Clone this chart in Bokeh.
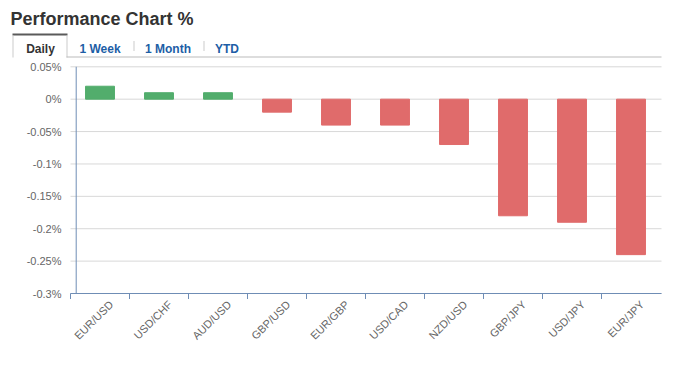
from bokeh.plotting import figure
from bokeh.models import ColumnDataSource, Range1d, FixedTicker
from bokeh.core.properties import value
from bokeh.embed import file_html
from bokeh.resources import INLINE

# ---- data ----
pairs = ["EUR/USD", "USD/CHF", "AUD/USD", "GBP/USD", "EUR/GBP",
         "USD/CAD", "NZD/USD", "GBP/JPY", "USD/JPY", "EUR/JPY"]
changes = [0.02, 0.01, 0.01, -0.02, -0.04, -0.04, -0.07, -0.18, -0.19, -0.24]
y_ticks = [0.05, 0.0, -0.05, -0.1, -0.15, -0.2, -0.25, -0.3]
y_tick_labels = ["0.05%", "0%", "-0.05%", "-0.1%", "-0.15%", "-0.2%", "-0.25%", "-0.3%"]
title_text = "Performance Chart %"
tabs = ["Daily", "1 Week", "1 Month", "YTD"]

GREEN = "#52ad6c"
RED = "#e06b6b"
AXIS = "#6f8db5"
GRID = "#d8d8d8"
FONT = "Liberation Sans"

W, H = 676, 377
n = len(pairs)

# ---- layout (pixels) ----
PLOT_L, PLOT_R = 70, 661          # category band start / gridline end
PLOT_T, PLOT_B = 66.3, 293        # 0.05% line / -0.3% line
BAND = (PLOT_R - 1 - PLOT_L) / n  # px per category
FRAME_B = 300                     # frame bottom (x axis labels start here)
TICK_B = 298.5                    # bottom of x tick marks
YPX = (PLOT_B - PLOT_T) / (y_ticks[0] - y_ticks[-1])  # px per unit


def dx(px):
    return (px - PLOT_L) / BAND


def dy(py):
    return y_ticks[0] - (py - PLOT_T) / YPX


p = figure(width=W, height=H, output_backend="svg", toolbar_location=None,
           x_range=Range1d(dx(0), dx(W)), y_range=Range1d(dy(FRAME_B), dy(0)),
           y_axis_location=None,
           min_border_left=0, min_border_right=0, min_border_top=0,
           min_border_bottom=H - FRAME_B)
p.outline_line_color = None
p.background_fill_color = "white"
p.border_fill_color = "white"
p.xgrid.visible = False
p.ygrid.visible = False

# ---- horizontal grid lines ----
p.segment(x0=[dx(PLOT_L)] * len(y_ticks), x1=[dx(PLOT_R)] * len(y_ticks),
          y0=y_ticks, y1=y_ticks, line_color=GRID, line_width=1)

# ---- bars ----
centers = [i + 0.5 for i in range(n)]
src = ColumnDataSource(dict(x=centers, top=changes,
                            color=[GREEN if v >= 0 else RED for v in changes]))
p.vbar(x="x", top="top", bottom=0, width=0.49, color="color", source=src)

# ---- axis lines and category tick marks (at band edges) ----
p.segment(x0=[dx(75.7)], x1=[dx(75.7)], y0=[y_ticks[-1]], y1=[y_ticks[0]],
          line_color=AXIS, line_width=1)
p.segment(x0=[dx(PLOT_L)], x1=[dx(PLOT_R)], y0=[y_ticks[-1]], y1=[y_ticks[-1]],
          line_color=AXIS, line_width=1)
edges = list(range(n))
p.segment(x0=edges, x1=edges, y0=[y_ticks[-1]] * n, y1=[dy(TICK_B)] * n,
          line_color=AXIS, line_width=1)

# ---- y tick labels ----
p.text(x=[dx(61)] * len(y_ticks), y=y_ticks, text=y_tick_labels,
       text_font=value(FONT), text_font_size="11px", text_color="#666666",
       text_align="right", text_baseline="middle")

# ---- x axis (real axis carrying the rotated category labels) ----
label_pos = [c + 0.19 for c in centers]
xa = p.xaxis[0]
xa.ticker = FixedTicker(ticks=label_pos, minor_ticks=[])
xa.major_label_overrides = {c: lab for c, lab in zip(label_pos, pairs)}
xa.axis_line_color = None
xa.major_tick_line_color = None
xa.minor_tick_line_color = None
xa.major_tick_in = 0
xa.major_tick_out = 0
xa.minor_tick_in = 0
xa.minor_tick_out = 0
xa.major_label_orientation = 0.785398
xa.major_label_standoff = 2
xa.major_label_text_font = FONT
xa.major_label_text_font_size = "11px"
xa.major_label_text_color = "#666666"

# ---- header: title + tabs ----
p.text(x=[dx(10)], y=[dy(18)], text=[title_text], text_font=value(FONT),
       text_font_size="18px", text_font_style="bold", text_color="#333333",
       text_baseline="alphabetic", text_align="left")

tab_px = [40, 99.5, 167.5, 226.5]
tab_colors = ["#333333", "#1d5ea6", "#1d5ea6", "#1d5ea6"]
p.text(x=[dx(v) for v in tab_px], y=[dy(48.7)] * len(tabs), text=tabs,
       text_font=value(FONT), text_font_size="12px", text_font_style="bold",
       text_color=tab_colors, text_baseline="alphabetic", text_align="center")

# tab strip lines: (left, right, top, bottom, colour) in px
boxes = [
    (12, 67, 33, 35, "#5a5a5a"),      # active tab top border
    (12, 13, 35, 57, "#cccccc"),      # active tab left border
    (66, 67, 35, 57, "#cccccc"),      # active tab right border
    (66, 661, 56, 57, "#bbbbbb"),     # strip bottom line
    (133, 134, 40.5, 50.5, "#cccccc"),
    (203, 204, 40.5, 50.5, "#cccccc"),
]
p.quad(left=[dx(b[0]) for b in boxes], right=[dx(b[1]) for b in boxes],
       top=[dy(b[2]) for b in boxes], bottom=[dy(b[3]) for b in boxes],
       fill_color=[b[4] for b in boxes], line_color=None)

open("out.html", "w").write(file_html(p, INLINE))
